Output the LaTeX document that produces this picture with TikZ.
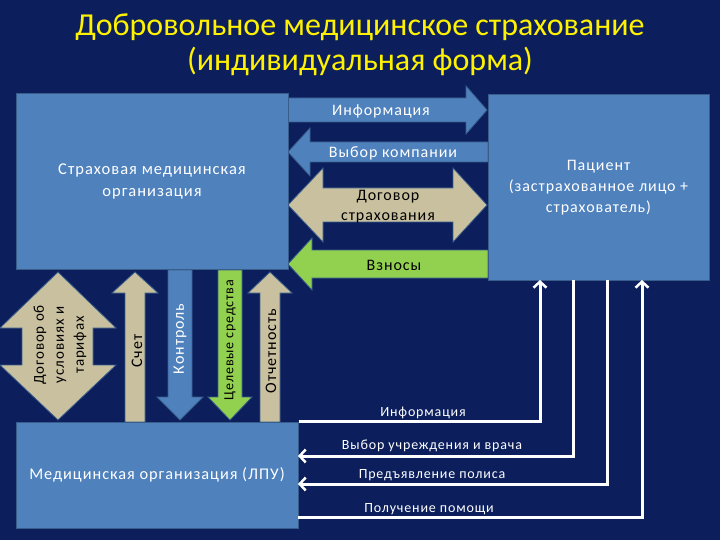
\documentclass[tikz,border=0pt]{standalone}
\usepackage{fontspec}
\setmainfont{Carlito}
\newfontfamily\dfont{Carlito}[LetterSpace=6]
\usetikzlibrary{arrows.meta}
\definecolor{bg}{RGB}{12,31,92}
\definecolor{boxblue}{RGB}{79,129,189}
\definecolor{boxedge}{RGB}{56,93,138}
\definecolor{tan}{RGB}{201,192,160}
\definecolor{lgreen}{RGB}{146,208,80}
\tikzset{
  box/.style={draw=boxedge, line width=1pt, fill=boxblue, text=white, align=center, inner sep=0pt},
  barrow/.style={draw=boxedge, line width=0.8pt, line join=miter},
  lbl/.style={align=center, inner sep=0pt},
  wline/.style={draw=white, line width=3pt, -{Straight Barb[length=6pt,width=13pt,line width=2.5pt]}},
  wlbl/.style={text=white, font=\dfont\fontsize{14}{16}\selectfont, inner sep=0pt}
}
\begin{document}
\begin{tikzpicture}[x=1pt,y=-1pt]
\useasboundingbox (0,0) rectangle (720,540);
\fill[bg] (0,0) rectangle (720,540);

% title
\node[lbl, text=yellow, font=\fontsize{32}{35}\selectfont] (title) at (360,45)
  {Добровольное медицинское страхование\\(индивидуальная форма)};

% horizontal block arrows
\fill[boxblue, barrow] (288,98) -- (466,98) -- (466,86) -- (487,110) -- (466,134) -- (466,122) -- (288,122) -- cycle;
\node[lbl, text=white, font=\dfont\fontsize{16}{18}\selectfont] (info) at (381,111) {Информация};

\fill[boxblue, barrow] (488,142) -- (310,142) -- (310,128) -- (288,152) -- (310,176) -- (310,162) -- (488,162) -- cycle;
\node[lbl, text=white, font=\dfont\fontsize{16}{18}\selectfont] (choice) at (393,153) {Выбор компании};

\fill[tan, barrow] (323,188) -- (453,188) -- (453,168) -- (487,205) -- (453,242) -- (453,222) -- (323,222) -- (323,242) -- (288,205) -- (323,168) -- cycle;
\node[lbl, text=black, font=\dfont\fontsize{16}{20}\selectfont] (dog) at (388,207) {Договор\\страхования};

\fill[lgreen, barrow] (488,250) -- (312,250) -- (312,238) -- (288,264) -- (312,290) -- (312,278) -- (488,278) -- cycle;
\node[lbl, text=black, font=\dfont\fontsize{16}{18}\selectfont] (vzn) at (394,265) {Взносы};

% boxes
\node[box, minimum width=272pt, minimum height=175pt, font=\dfont\fontsize{16.5}{22}\selectfont] (smo) at (152,181.5)
  {Страховая медицинская\\организация};
\node[box, minimum width=221pt, minimum height=185pt, font=\dfont\fontsize{16}{21}\selectfont] (pat) at (598.5,187.5)
  {Пациент\\(застрахованное лицо +\\страхователь)};

% vertical block arrows
\fill[tan, barrow] (22,328) -- (0,328) -- (58,272) -- (116,328) -- (93,328) -- (93,365) -- (116,365) -- (58,420) -- (0,365) -- (22,365) -- cycle;
\node[lbl, text=black, rotate=90, font=\dfont\fontsize{15}{20}\selectfont] (dogusl) at (60,345) {Договор об\\условиях и\\тарифах};

\fill[tan, barrow] (125,422) -- (125,293) -- (112,293) -- (135,272) -- (158,293) -- (145,293) -- (145,422) -- cycle;
\node[lbl, text=black, rotate=90, font=\dfont\fontsize{16}{18}\selectfont] (schet) at (137,351) {Счет};

\fill[boxblue, barrow] (168,270) -- (168,397) -- (157,397) -- (180,420) -- (203,397) -- (192,397) -- (192,270) -- cycle;
\node[lbl, text=white, rotate=90, font=\dfont\fontsize{16}{18}\selectfont] (kontr) at (180,339) {Контроль};

\fill[lgreen, barrow] (218,270) -- (218,397) -- (208,397) -- (230,420) -- (252,397) -- (242,397) -- (242,270) -- cycle;
\node[lbl, text=black, rotate=90, font=\dfont\fontsize{14}{18}\selectfont] (cel) at (230,340) {Целевые средства};

\fill[tan, barrow] (260,422) -- (260,293) -- (248,293) -- (270,272) -- (292,293) -- (280,293) -- (280,422) -- cycle;
\node[lbl, text=black, rotate=90, font=\dfont\fontsize{16}{18}\selectfont] (otch) at (271,351) {Отчетность};

\node[box, minimum width=282pt, minimum height=106pt, font=\dfont\fontsize{16.3}{20}\selectfont] (lpu) at (157,475)
  {Медицинская организация (ЛПУ)};

% white connectors
\coordinate (v1) at (540,280);
\coordinate (v2) at (573,280);
\coordinate (v3) at (607,280);
\coordinate (v4) at (642,280);
\coordinate (h2) at (298,456);
\coordinate (h3) at (298,484);
\coordinate (h4) at (298,517);

\draw[wline] (lpu.north east) -| (v1);
\draw[wline] (v2) |- (h2);
\draw[wline] (v3) |- (h3);
\draw[wline] (h4) -| (v4);

\node[wlbl] (l1) at (423,413) {Информация};
\node[wlbl] (l2) at (432,446) {Выбор учреждения и врача};
\node[wlbl] (l3) at (432,475) {Предъявление полиса};
\node[wlbl] (l4) at (429,509) {Получение помощи};
\end{tikzpicture}
\end{document}
